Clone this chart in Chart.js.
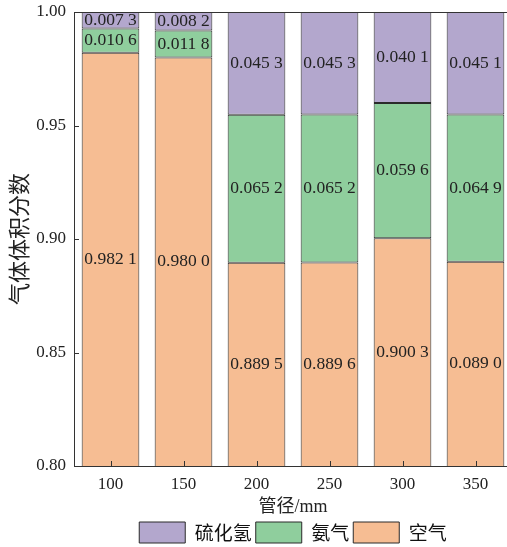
<!DOCTYPE html>
<html lang="zh">
<head>
  <meta charset="UTF-8">
  <title>气体体积分数</title>
  <script src="https://cdn.jsdelivr.net/npm/chart.js"></script>
  <style>
    html, body { margin: 0; padding: 0; background: #fff; overflow: hidden; }
    #wrap { width: 512px; height: 547px; }
  </style>
</head>
<body>
  <div id="wrap"><canvas id="grafico"></canvas></div>

  <script>
    // datos
    const categorias = ['100', '150', '200', '250', '300', '350'];
    const aire = [0.9821, 0.9800, 0.8895, 0.8896, 0.9003, 0.8900];
    const amoniaco = [0.0106, 0.0118, 0.0652, 0.0652, 0.0596, 0.0649];
    const sulfuro = [0.0073, 0.0082, 0.0453, 0.0453, 0.0401, 0.0451];
    // etiquetas tal como salen en la figura
    const etiquetasAire = ['0.982 1', '0.980 0', '0.889 5', '0.889 6', '0.900 3', '0.089 0'];
    const etiquetasAmoniaco = ['0.010 6', '0.011 8', '0.065 2', '0.065 2', '0.059 6', '0.064 9'];
    const etiquetasSulfuro = ['0.007 3', '0.008 2', '0.045 3', '0.045 3', '0.040 1', '0.045 1'];
    const ticksY = [0.80, 0.85, 0.90, 0.95, 1.00];

    const serif = '"Liberation Serif", "Noto Sans CJK SC", serif';
    const borde = '#2b2b2b';

    const etiquetas = [etiquetasAire, etiquetasAmoniaco, etiquetasSulfuro];

    const pluginEtiquetas = {
      id: 'etiquetas',
      afterDatasetsDraw(chart) {
        const ctx = chart.ctx;
        const area = chart.chartArea;
        ctx.save();
        ctx.font = '17.5px ' + serif;
        ctx.fillStyle = '#222';
        ctx.textAlign = 'center';
        ctx.textBaseline = 'middle';
        chart.data.datasets.forEach((ds, i) => {
          chart.getDatasetMeta(i).data.forEach((bar, j) => {
            const top = Math.max(bar.y, area.top);
            const base = Math.min(bar.base, area.bottom);
            ctx.fillText(etiquetas[i][j], bar.x, (top + base) / 2);
          });
        });
        ctx.restore();
      }
    };

    // marcas hacia dentro y linea superior
    const pluginMarco = {
      id: 'marco',
      afterDraw(chart) {
        const ctx = chart.ctx;
        const a = chart.chartArea;
        const x = chart.scales.x;
        const y = chart.scales.y;
        ctx.save();
        ctx.strokeStyle = '#333';
        ctx.lineWidth = 1;
        ctx.beginPath();
        ctx.moveTo(a.left, a.top + 0.5);
        ctx.lineTo(a.right, a.top + 0.5);
        y.ticks.forEach((t, i) => {
          const py = Math.round(y.getPixelForTick(i)) + 0.5;
          ctx.moveTo(a.left, py);
          ctx.lineTo(a.left + 5, py);
        });
        x.ticks.forEach((t, i) => {
          const px = Math.round(x.getPixelForTick(i)) + 0.5;
          ctx.moveTo(px, a.bottom);
          ctx.lineTo(px, a.bottom - 5);
        });
        ctx.stroke();
        ctx.restore();
      }
    };

    new Chart(document.getElementById('grafico'), {
      type: 'bar',
      data: {
        labels: categorias,
        datasets: [
          { label: '空气', data: aire, backgroundColor: '#f6bd93' },
          { label: '氨气', data: amoniaco, backgroundColor: '#8fce9d' },
          { label: '硫化氢', data: sulfuro, backgroundColor: '#b3a7cd' }
        ].map(d => Object.assign(d, {
          borderColor: borde,
          borderWidth: 1,
          borderSkipped: false,
          barPercentage: 0.79,
          categoryPercentage: 1.0
        }))
      },
      options: {
        responsive: true,
        maintainAspectRatio: false,
        animation: false,
        layout: { padding: { top: 12, right: 0, left: 0, bottom: -6 } },
        plugins: {
          legend: {
            position: 'bottom',
            fullSize: false,
            reverse: true,
            labels: {
              boxWidth: 46,
              boxHeight: 21,
              padding: 4,
              color: '#111',
              font: { family: '"Noto Sans CJK SC", sans-serif', size: 19 }
            }
          },
          tooltip: { enabled: false }
        },
        scales: {
          x: {
            stacked: true,
            grid: { display: false, drawTicks: false },
            border: { display: true, color: '#333', width: 1 },
            ticks: { color: '#222', padding: 8, font: { family: serif, size: 17 } },
            title: {
              display: true,
              text: '管径/mm',
              color: '#222',
              padding: { top: 5, bottom: 0 },
              font: { family: serif, size: 18 }
            },
            afterFit: s => { s.height = 52; }
          },
          y: {
            stacked: true,
            min: 0.80,
            max: 1.00,
            afterBuildTicks: s => { s.ticks = ticksY.map(v => ({ value: v })); },
            grid: { display: false, drawTicks: false },
            border: { display: true, color: '#333', width: 1 },
            ticks: {
              color: '#222',
              padding: 8,
              font: { family: serif, size: 17 },
              callback: v => Number(v).toFixed(2)
            },
            title: {
              display: true,
              text: '气体体积分数',
              color: '#222',
              padding: { top: 5, bottom: 0 },
              font: { family: '"Noto Sans CJK SC", sans-serif', size: 22 }
            },
            afterFit: s => {
              s.width = 74;
              s.paddingTop = 0;
              s.paddingBottom = 0;
            }
          }
        }
      },
      plugins: [pluginEtiquetas, pluginMarco]
    });
  </script>
</body>
</html>
